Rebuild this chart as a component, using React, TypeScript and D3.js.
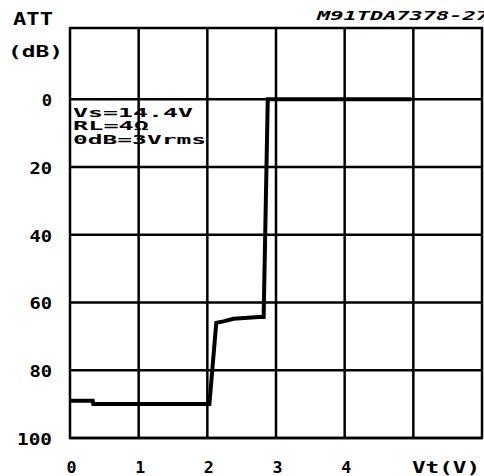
import React from 'react';
import * as d3 from 'd3';

// attenuation vs control voltage
const vtValues = [0, 0.33, 0.34, 2.03, 2.13, 2.25, 2.38, 2.75, 2.82, 2.88, 4.97];
const attValues = [89, 89, 90, 90, 66, 65.5, 64.8, 64.3, 64.3, 0, 0];

const xTicks = [0, 1, 2, 3, 4];
const xGrid = [1, 2, 3, 4, 5];
const yTicks = [0, 20, 40, 60, 80, 100];
const legendLines = ['Vs=14.4V', 'RL=4Ω', '0dB=3Vrms'];
const legendWidths = [120, 76, 133];

const WIDTH = 484;
const HEIGHT = 476;
const FONT = '"DejaVu Sans Mono", "Liberation Mono", monospace';

export default function App() {
  const x = d3.scaleLinear().domain([0, 6]).range([70, 482]);
  const y = d3.scaleLinear().domain([-21, 100]).range([28, 438]);

  const points: [number, number][] = vtValues.map((v, i) => [v, attValues[i]]);
  const line = d3.line<[number, number]>()
    .x(d => x(d[0]))
    .y(d => y(d[1]));

  const label = { fontFamily: FONT, fontWeight: 'bold' as const, fill: '#000' };

  return (
    <svg width={WIDTH} height={HEIGHT} style={{ position: 'absolute', left: 0, top: 0, background: '#fff' }}>
      {/* grid */}
      {xGrid.map(t =>
        <line key={'vx' + t} x1={x(t)} x2={x(t)} y1={y(-21)} y2={y(100)} stroke='#000' strokeWidth={2.5} />
      )}
      {yTicks.map(t =>
        <line key={'hy' + t} x1={x(0)} x2={x(6)} y1={y(t)} y2={y(t)} stroke='#000' strokeWidth={2.5} />
      )}
      <rect x={x(0)} y={y(-21)} width={x(6) - x(0)} height={y(100) - y(-21)} fill='none' stroke='#000' strokeWidth={2.5} />

      {/* legend box text */}
      {legendLines.map((s, i) =>
        <text key={s} x={x(0) + 3} y={y(0) + 17.5 + i * 13.5} textLength={legendWidths[i]} lengthAdjust='spacingAndGlyphs'
          style={{ ...label, fontSize: 12.5 }}>{s}</text>
      )}

      {/* curve */}
      <path d={line(points) || ''} fill='none' stroke='#000' strokeWidth={4} strokeLinejoin='miter' />

      {/* y axis labels */}
      {yTicks.map(t =>
        <text key={'yl' + t} x={52} y={y(t) + 7} textAnchor='end' textLength={String(t).length * 12.3 - 2} lengthAdjust='spacingAndGlyphs'
          style={{ ...label, fontSize: 15 }}>{t}</text>
      )}
      <text x={13} y={25} textLength={40} lengthAdjust='spacingAndGlyphs' style={{ ...label, fontSize: 17 }}>ATT</text>
      <text x={8} y={57} textLength={55} lengthAdjust='spacingAndGlyphs' style={{ ...label, fontSize: 16 }}>(dB)</text>

      {/* x axis labels */}
      {xTicks.map(t =>
        <text key={'xl' + t} x={x(t) + 1.5} y={473} textAnchor='middle' textLength={10} lengthAdjust='spacingAndGlyphs'
          style={{ ...label, fontSize: 15 }}>{t}</text>
      )}
      <text x={412} y={473} textLength={68} lengthAdjust='spacingAndGlyphs' style={{ ...label, fontSize: 15 }}>Vt(V)</text>

      <text x={317} y={20} textLength={172} lengthAdjust='spacingAndGlyphs'
        style={{ ...label, fontSize: 13, fontStyle: 'italic' }}>M91TDA7378-27</text>
    </svg>
  );
}
